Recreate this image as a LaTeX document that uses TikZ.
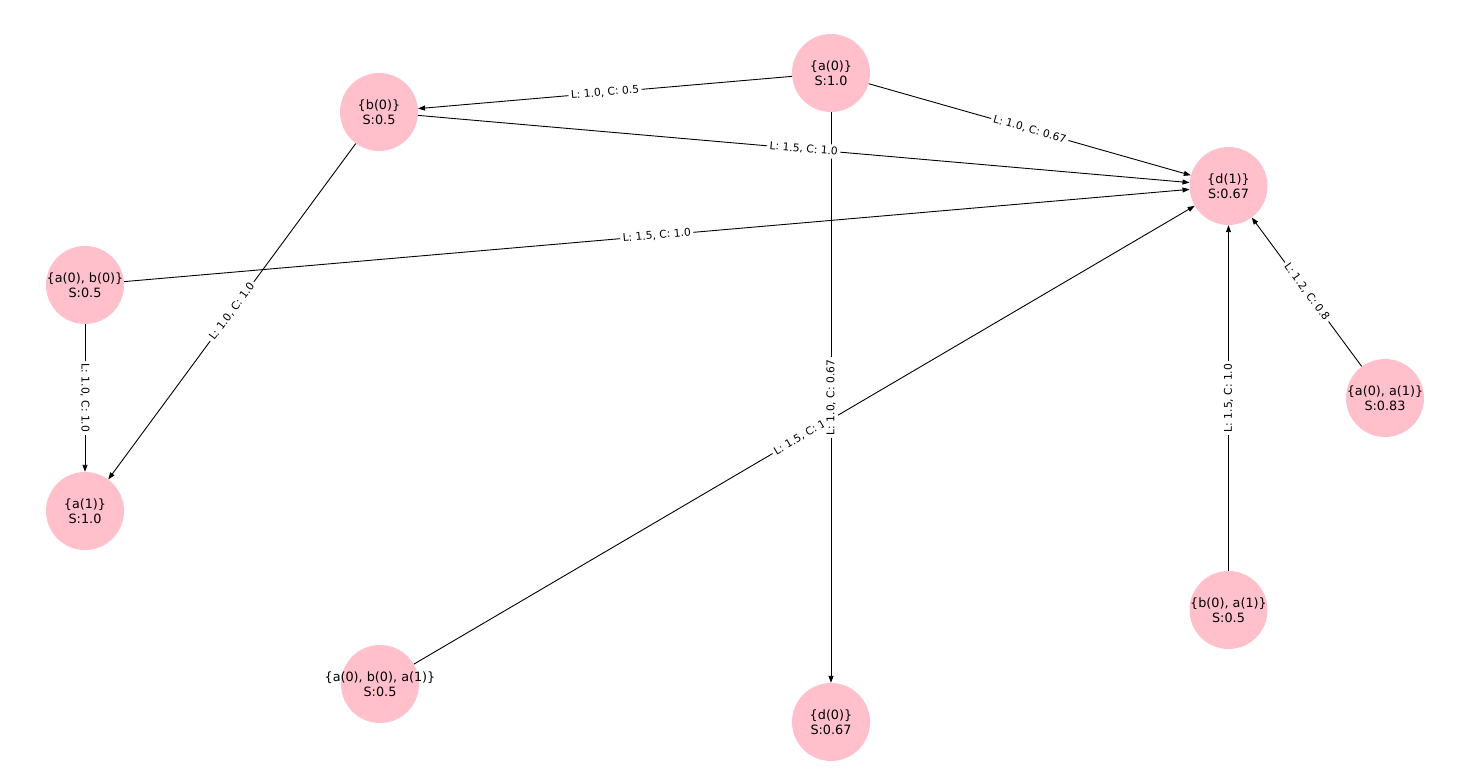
\documentclass[tikz,border=0pt]{standalone}
\usepackage{fontspec}
\setmainfont{DejaVu Sans}
\usetikzlibrary{arrows.meta}
\definecolor{nodepink}{RGB}{255,192,203}
\tikzset{
  vtx/.style={circle, fill=nodepink, draw=none, minimum size=78pt, inner sep=0pt},
  vtxtext/.style={align=center, inner sep=0pt, font=\fontsize{12.8}{14.6}\selectfont},
  edge/.style={line width=0.9pt, -{Triangle[length=7pt,width=5pt]}},
  lbl/.style={fill=white, inner sep=2.5pt, font=\fontsize{10.7}{12}\selectfont}
}
\begin{document}
\begin{tikzpicture}[x=1pt,y=-1pt]
\useasboundingbox (0,0) rectangle (1468,778);
% nodes
\node[vtx] (a0) at (831,73) {};
\node[vtx] (b0) at (379,112) {};
\node[vtx] (d1) at (1228.5,186) {};
\node[vtx] (ab0) at (85,285) {};
\node[vtx] (a1) at (85,511) {};
\node[vtx] (aa1) at (1385,398) {};
\node[vtx] (ba1) at (1228.5,610) {};
\node[vtx] (aba1) at (380,684) {};
\node[vtx] (d0) at (831,722) {};
% edges
\draw[edge] (a0) -- (b0);
\draw[edge] (a0) -- (d1);
\draw[edge] (a0) -- (d0);
\draw[edge] (b0) -- (d1);
\draw[edge] (b0) -- (a1);
\draw[edge] (ab0) -- (d1);
\draw[edge] (ab0) -- (a1);
\draw[edge] (aa1) -- (d1);
\draw[edge] (ba1) -- (d1);
\draw[edge] (aba1) -- (d1);
% edge labels
\path (a0) -- (b0) node[midway, lbl, rotate=4.9] {L: 1.0, C: 0.5};
\path (a0) -- (d1) node[midway, lbl, rotate=-15.9] {L: 1.0, C: 0.67};
\path (b0) -- (d1) node[midway, lbl, rotate=-5.0] {L: 1.5, C: 1.0};
\path (b0) -- (a1) node[midway, lbl, rotate=53.6] {L: 1.0, C: 1.0};
\path (ab0) -- (d1) node[midway, lbl, rotate=4.95] {L: 1.5, C: 1.0};
\path (ab0) -- (a1) node[midway, lbl, rotate=-90] {L: 1.0, C: 1.0};
\path (aa1) -- (d1) node[midway, lbl, rotate=-53.5] {L: 1.2, C: 0.8};
\path (ba1) -- (d1) node[midway, lbl, rotate=90] {L: 1.5, C: 1.0};
\path (aba1) -- (d1) node[midway, lbl, rotate=30.4] {L: 1.5, C: 1.0};
\path (a0) -- (d0) node[midway, lbl, rotate=90] {L: 1.0, C: 0.67};
% node texts
\node[vtxtext] at (a0) {\{a(0)\}\\S:1.0};
\node[vtxtext] at (b0) {\{b(0)\}\\S:0.5};
\node[vtxtext] at (d1) {\{d(1)\}\\S:0.67};
\node[vtxtext] at (ab0) {\{a(0), b(0)\}\\S:0.5};
\node[vtxtext] at (a1) {\{a(1)\}\\S:1.0};
\node[vtxtext] at (aa1) {\{a(0), a(1)\}\\S:0.83};
\node[vtxtext] at (ba1) {\{b(0), a(1)\}\\S:0.5};
\node[vtxtext] at (aba1) {\{a(0), b(0), a(1)\}\\S:0.5};
\node[vtxtext] at (d0) {\{d(0)\}\\S:0.67};
\end{tikzpicture}
\end{document}
